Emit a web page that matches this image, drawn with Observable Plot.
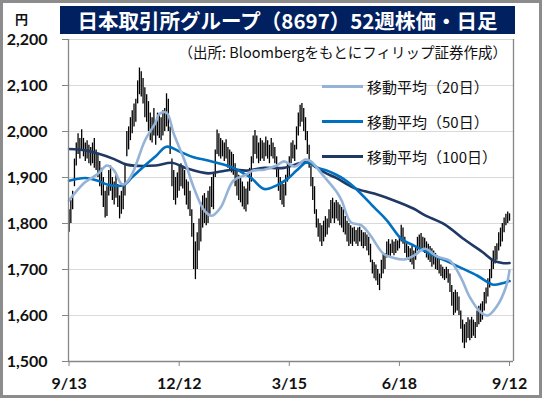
<!DOCTYPE html>
<html><head><meta charset="utf-8">
<script src="https://cdn.jsdelivr.net/npm/d3@7"></script>
<script src="https://cdn.jsdelivr.net/npm/@observablehq/plot@0.6"></script>
<style>
body{margin:0;background:#fff;}
#wrap{position:relative;width:542px;height:398px;overflow:hidden;background:#fff;}
#frame{position:absolute;left:0;top:0;width:542px;height:398px;box-sizing:border-box;border:3px solid #8c8c8c;pointer-events:none;}
#title{position:absolute;left:60px;top:6px;width:455px;height:28px;background:#002060;color:#fff;font-family:"Noto Sans CJK JP";font-weight:bold;font-size:20.5px;line-height:28px;text-align:center;white-space:nowrap;}
#yen{position:absolute;left:15px;top:11px;font-family:"Noto Sans CJK JP";font-weight:bold;font-size:13px;line-height:16px;color:#111;}
#src{position:absolute;right:35px;top:43px;font-family:"Noto Sans CJK JP";font-size:14.5px;line-height:18px;color:#111;white-space:nowrap;}
.leg{position:absolute;left:322px;height:20px;display:flex;align-items:center;font-family:"Noto Sans CJK JP";font-size:15px;color:#111;white-space:nowrap;}
.leg span{display:inline-block;width:41px;height:3px;margin-right:4px;}
#chart{position:absolute;left:0;top:0;}
</style></head>
<body>
<div id="wrap">
<div id="chart"></div>
<div id="title">日本取引所グループ（8697）52週株価・日足</div>
<div id="yen">円</div>
<div id="src">（出所: Bloombergをもとにフィリップ証券作成）</div>
<div id="legend"></div>
<div id="frame"></div>
</div>
<script>
// Daily lows and highs (trading-day index 0..244)
const lo = [
1781,1800,1830,1880,1925,1950,1940,1960,1945,1935,
1940,1930,1925,1930,1920,1915,1900,1880,1860,1835,
1812,1815,1860,1870,1850,1840,1855,1835,1810,1820,
1830,1860,1945,1960,1980,1995,2010,2020,2060,2080,
2075,2060,2030,2020,2000,1980,1975,1990,1970,1990,
1985,1980,1990,2000,2010,2000,1950,1880,1850,1840,
1855,1870,1880,1875,1860,1840,1830,1815,1770,1700,
1678,1700,1740,1760,1790,1800,1795,1800,1820,1835,
1830,1900,1950,1945,1940,1945,1935,1940,1920,1915,
1910,1905,1880,1860,1850,1845,1836,1830,1825,1840,
1870,1890,1930,1950,1940,1930,1935,1940,1935,1945,
1940,1930,1945,1940,1930,1900,1870,1850,1840,1835,
1860,1890,1900,1930,1940,1935,1960,1990,2010,2020,
2000,1980,1950,1920,1880,1850,1820,1790,1770,1760,
1750,1760,1770,1775,1790,1800,1810,1800,1810,1805,
1795,1790,1780,1775,1760,1750,1755,1750,1760,1755,
1750,1760,1750,1745,1750,1740,1730,1715,1690,1680,
1675,1665,1654,1680,1690,1700,1725,1730,1727,1735,
1730,1735,1740,1745,1760,1755,1735,1725,1720,1715,
1710,1700,1720,1740,1745,1742,1745,1735,1725,1720,
1715,1705,1710,1700,1698,1690,1685,1680,1676,1680,
1670,1650,1620,1600,1605,1610,1600,1570,1540,1528,
1540,1550,1545,1550,1555,1550,1574,1580,1585,1590,
1610,1625,1640,1660,1680,1700,1712,1720,1740,1749,
1760,1780,1795,1800,1805];
const hi = [
1830,1850,1870,1940,1975,1995,1985,2004,1985,1975,
1980,1970,1965,1975,1985,1960,1950,1935,1920,1900,
1870,1880,1915,1925,1900,1890,1905,1885,1860,1870,
1880,1930,2000,2010,2030,2045,2060,2070,2110,2138,
2130,2115,2095,2080,2065,2040,2030,2050,2020,2040,
2035,2030,2045,2050,2082,2070,2010,1940,1915,1900,
1910,1925,1930,1925,1915,1895,1890,1870,1830,1800,
1760,1780,1810,1845,1860,1865,1855,1870,1880,1900,
1910,1960,2003,1995,1985,1980,1975,1982,1965,1960,
1955,1950,1930,1915,1905,1900,1890,1880,1875,1890,
1920,1945,1990,2002,1990,1975,1985,1980,1975,1988,
1980,1970,1985,1975,1965,1945,1920,1900,1890,1885,
1905,1930,1945,1975,1980,1970,2010,2040,2057,2061,
2050,2030,2000,1970,1925,1900,1880,1830,1810,1800,
1795,1805,1815,1810,1830,1850,1855,1845,1850,1845,
1840,1835,1830,1815,1805,1800,1795,1790,1792,1785,
1790,1792,1785,1780,1780,1775,1770,1755,1720,1715,
1710,1700,1690,1720,1735,1735,1760,1765,1755,1764,
1760,1765,1762,1770,1796,1790,1770,1756,1750,1745,
1750,1740,1750,1770,1775,1778,1770,1768,1760,1755,
1750,1745,1740,1735,1730,1725,1710,1705,1700,1705,
1700,1690,1665,1650,1655,1650,1640,1610,1590,1580,
1585,1595,1590,1596,1590,1585,1610,1620,1625,1630,
1650,1660,1680,1700,1720,1740,1750,1756,1780,1790,
1800,1812,1820,1825,1821];

// Moving averages (day index, value)
const ma20Day = [0,3,9,16,21,25,29,31,35,42,48,50,54,58,64,69,75,79,84,91,98,102,108,115,119,125,131,134,140,148,151,156,162,167,174,180,186,191,197,204,211,217,222,228,232,237,242,244];
const ma20Val = [1850,1865,1890,1908,1926,1915,1886,1886,1908,1980,2020,2038,2041,1995,1937,1879,1828,1817,1835,1893,1906,1915,1917,1926,1935,1924,1939,1935,1908,1870,1850,1803,1796,1774,1735,1725,1722,1730,1745,1728,1719,1683,1640,1607,1600,1620,1662,1698];
const ma50Day = [0,9,16,21,30,35,42,48,54,62,69,77,84,91,98,101,108,115,121,126,132,137,143,148,152,158,169,176,184,191,197,204,211,218,226,235,240,244];
const ma50Val = [1893,1899,1893,1885,1883,1901,1926,1946,1967,1955,1944,1937,1930,1921,1906,1899,1875,1883,1897,1915,1933,1922,1915,1906,1897,1879,1835,1807,1767,1752,1740,1727,1715,1702,1687,1667,1670,1675];
const ma100Day = [0,9,16,25,32,48,57,65,77,84,91,98,108,119,130,134,141,148,158,169,180,191,197,208,218,229,235,240,244];
const ma100Val = [1962,1959,1952,1940,1928,1926,1932,1920,1909,1913,1917,1915,1921,1921,1933,1930,1912,1899,1877,1865,1850,1832,1818,1798,1768,1738,1720,1714,1714];

const tickDays = [0,61,122,183,244];
const tickLabels = ["9/13","12/12","3/15","6/18","9/12"];
const yTicks = [1500,1600,1700,1800,1900,2000,2100,2200];

const seriesNames = ["移動平均（20日）","移動平均（50日）","移動平均（100日）"];
const seriesColors = ["#95B3D7","#0070C0","#1F3864"];

const candles = lo.map((l,i)=>({i, lo:l, hi:hi[i]}));
const mk = (days, vals) => days.map((d,k)=>({i:d, v:vals[k]}));
const ma20 = mk(ma20Day, ma20Val), ma50 = mk(ma50Day, ma50Val), ma100 = mk(ma100Day, ma100Val);

const xMin = -0.3, xMax = 246.2;
const chart = Plot.plot({
  width:542, height:398,
  marginLeft:68, marginRight:29, marginTop:39, marginBottom:37,
  style:{background:"transparent", fontFamily:"Lato, 'Noto Sans'", fontWeight:"bold", fontSize:"16px", color:"#111"},
  x:{domain:[xMin,xMax]},
  y:{domain:[1500,2200]},
  marks:[
    Plot.gridY(yTicks.slice(1), {stroke:"#d9d9d9", strokeOpacity:1, strokeWidth:1}),
    Plot.ruleX(candles, {x:"i", y1:"lo", y2:"hi", stroke:"#000", strokeWidth:1.3}),
    Plot.line(ma100, {x:"i", y:"v", stroke:seriesColors[2], strokeWidth:2.6, curve:"catmull-rom"}),
    Plot.line(ma50, {x:"i", y:"v", stroke:seriesColors[1], strokeWidth:2.6, curve:"catmull-rom"}),
    Plot.line(ma20, {x:"i", y:"v", stroke:seriesColors[0], strokeWidth:2.6, curve:"catmull-rom"}),
    Plot.ruleX([xMin], {stroke:"#868686", strokeWidth:1.3}),
    Plot.ruleX([xMax], {stroke:"#868686", strokeWidth:1.3}),
    Plot.ruleY([1500], {stroke:"#868686", strokeWidth:1.3}),
    Plot.axisY(yTicks, {tickSize:6, tickPadding:15, stroke:"#868686", fill:"#111", tickFormat:d=>d3.format(",")(d), label:null}),
    Plot.axisX(tickDays, {tickSize:5, tickPadding:11, stroke:"#868686", fill:"#111", tickFormat:d=>tickLabels[tickDays.indexOf(d)], label:null})
  ]
});
document.getElementById("chart").appendChild(chart);

const legTops = [76,111,146];
const legend = document.getElementById("legend");
seriesNames.forEach((n,k)=>{
  const d = document.createElement("div");
  d.className = "leg";
  d.style.top = legTops[k] + "px";
  const s = document.createElement("span");
  s.style.background = seriesColors[k];
  d.appendChild(s);
  d.appendChild(document.createTextNode(n));
  legend.appendChild(d);
});
</script>
</body></html>
